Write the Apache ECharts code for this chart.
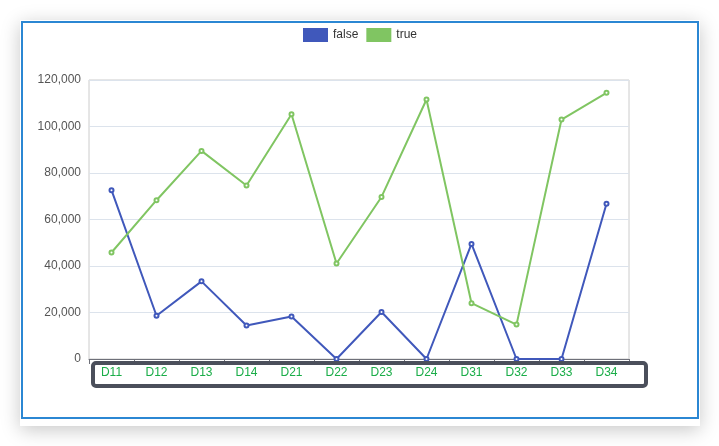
<!DOCTYPE html>
<html>
<head>
<meta charset="utf-8">
<script src="https://cdn.jsdelivr.net/npm/echarts@6/dist/echarts.min.js"></script>
<style>
  html, body { margin: 0; padding: 0; background: #fff; }
  #wrap {
    position: absolute; left: 20px; top: 20px; width: 680px; height: 406px;
    background: #fff; box-shadow: 0 4px 18px rgba(0, 0, 0, 0.22);
  }
  #container {
    position: absolute; left: 1px; top: 1px; width: 674px; height: 394px;
    border: 2px solid #2b87d3;
  }
</style>
</head>
<body>
<div id="wrap"><div id="container"></div></div>
<script>
var categories = ["D11", "D12", "D13", "D14", "D21", "D22", "D23", "D24", "D31", "D32", "D33", "D34"];
var falseValues = [72600, 18600, 33400, 14400, 18300, 0, 20200, 0, 49500, 0, 0, 66800];
var trueValues = [45800, 68300, 89500, 74600, 105300, 41100, 69700, 111600, 24000, 14800, 103000, 114500];
var yTicks = { min: 0, max: 120000, interval: 20000 };

var dom = document.getElementById("container");
var myChart = echarts.init(dom, null, { renderer: "canvas" });

var option = {
  animation: false,
  textStyle: { fontFamily: "Liberation Sans, Arial, sans-serif" },
  color: ["#4058bb", "#80c562"],
  legend: {
    top: 0,
    itemWidth: 25,
    itemHeight: 14,
    icon: "rect",
    textStyle: { color: "#333", fontSize: 12 },
    data: ["false", "true"],
  },
  grid: {
    left: 66,
    right: 68,
    top: 57,
    bottom: 58,
    show: true,
    borderColor: "#ccc",
    borderWidth: 1,
  },
  xAxis: {
    type: "category",
    data: categories,
    boundaryGap: true,
    axisLine: { lineStyle: { color: "#6e7079" } },
    axisTick: { show: true, alignWithLabel: false },
    axisLabel: { color: "#1aad48", fontSize: 12 },
  },
  yAxis: {
    type: "value",
    min: yTicks.min,
    max: yTicks.max,
    interval: yTicks.interval,
    axisLine: { show: false },
    axisTick: { show: false },
    axisLabel: { color: "#555", fontSize: 12 },
    splitLine: { lineStyle: { color: "#dce3ec" } },
  },
  graphic: [
    {
      type: "rect",
      shape: { x: 70, y: 340, width: 553, height: 23, r: 3 },
      style: { fill: "none", stroke: "#4b4f5b", lineWidth: 4 },
      z: 10,
    },
  ],
  series: [
    {
      name: "false",
      type: "line",
      data: falseValues,
      symbol: "emptyCircle",
      symbolSize: 4,
      lineStyle: { width: 2 },
    },
    {
      name: "true",
      type: "line",
      data: trueValues,
      symbol: "emptyCircle",
      symbolSize: 4,
      lineStyle: { width: 2 },
    },
  ],
};

myChart.setOption(option);
window.addEventListener("resize", myChart.resize);
</script>
</body>
</html>
